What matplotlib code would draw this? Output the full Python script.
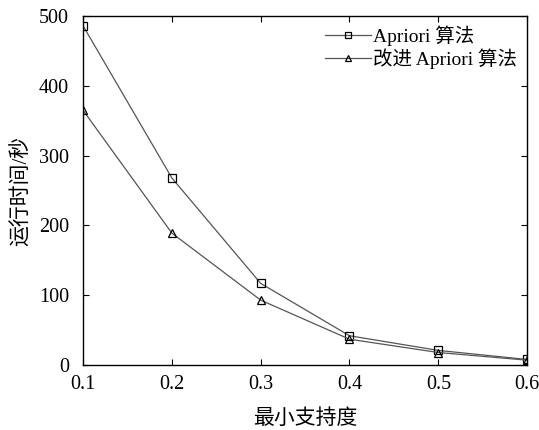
import numpy as np
import matplotlib
matplotlib.use("Agg")
import matplotlib.pyplot as plt

plt.rcParams['font.family'] = ['Liberation Serif', 'Noto Sans CJK SC']

# minimum support vs run time
support = [0.1, 0.2, 0.3, 0.4, 0.5, 0.6]
apriori = [486, 268, 117, 42, 21, 8]
improved = [365, 189, 93, 37, 18, 7]
labels = ["Apriori 算法", "改进 Apriori 算法"]

fig = plt.figure(figsize=(5.39, 4.30), dpi=100)
ax = fig.add_axes([0.154, 0.151, 0.824, 0.812])

ax.plot(support, apriori, color='#555555', lw=0.9, marker='s', ms=6,
        mfc='none', mec='black', mew=0.9, label=labels[0])
ax.plot(support, improved, color='#555555', lw=0.9, marker='^', ms=6,
        mfc='none', mec='black', mew=0.9, label=labels[1])

ax.set_xlim(0.1, 0.6)
ax.set_ylim(0, 500)
ax.set_xticks(support)
ax.set_xticklabels([f"{v:.1f}" for v in support])
ax.set_yticks(np.arange(0, 501, 100))
ax.tick_params(direction='in', top=True, right=True, labelsize=14.5, length=4)
ax.tick_params(axis='x', pad=7)
ax.tick_params(axis='y', pad=10)
for s in ax.spines.values():
    s.set_linewidth(1.0)

ax.set_xlabel("最小支持度", fontsize=15, labelpad=11)
ax.set_ylabel("运行时间/秒", fontsize=15, labelpad=5)

ax.legend(loc='upper right', frameon=False, fontsize=14, handlelength=2.4,
          handletextpad=0.1, labelspacing=0.1, markerscale=0.8,
          borderaxespad=0.1)

fig.savefig("out.png", dpi=100)
